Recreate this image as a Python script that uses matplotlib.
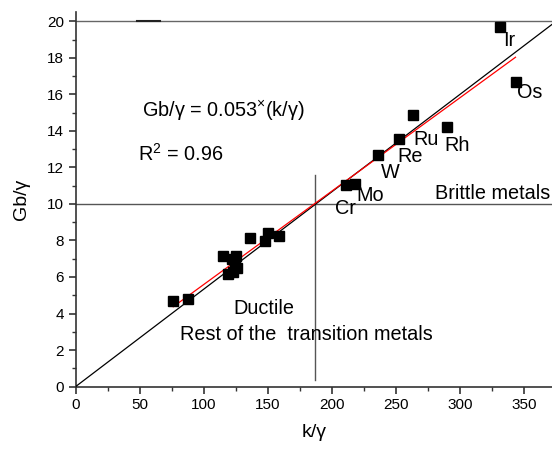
import matplotlib
matplotlib.use("Agg")
import matplotlib.pyplot as plt
import numpy as np

plt.rcParams['font.family'] = ['Liberation Sans', 'DejaVu Sans']
plt.rcParams['mathtext.fontset'] = 'custom'
plt.rcParams['mathtext.rm'] = 'Liberation Sans'
plt.rcParams['mathtext.it'] = 'Liberation Sans:italic'

# data points (k/gamma, Gb/gamma)
k_gamma = [76.2, 88.0, 114.8, 119.2, 122.5, 123.1, 124.5, 125.3, 125.8, 136.2,
           147.9, 150.0, 158.8, 210.9, 218.2, 236.4, 252.8, 263.1, 290.3, 331.5, 343.8]
gb_gamma = [4.70, 4.79, 7.14, 6.14, 7.00, 6.28, 6.74, 7.15, 6.50, 8.16,
            7.98, 8.42, 8.23, 11.06, 11.11, 12.70, 13.54, 14.89, 14.21, 19.67, 16.70]

# labelled metals
metal_names = ["Ir", "Os", "Ru", "Rh", "Re", "W", "Mo", "Cr"]
metal_label_x = [334, 345, 264, 288, 251.3, 238.3, 219.5, 202.6]
metal_label_y = [18.95, 16.1, 13.5, 13.2, 12.6, 11.7, 10.48, 9.75]

# lines
ref_slope = 0.0533
fit_x = [76.2, 343.5]
fit_y = [4.37, 18.03]
x_split = 186.7
y_split = 10
y_top_line = 20
xmax = 372
ymax = 20.5

fig = plt.figure(figsize=(5.52, 4.49), dpi=100)
ax = fig.add_axes([0.137, 0.139, 1.0 - 0.137, 0.973 - 0.139])

ax.set_xlim(0, xmax)
ax.set_ylim(0, ymax)

# reference line through origin
xs = np.array([0, xmax])
ax.plot(xs, ref_slope * xs, color='black', lw=0.9, zorder=3)
# fit line
ax.plot(fit_x, fit_y, color='red', lw=0.9, zorder=4)

# boundary lines
ax.axhline(y_split, color='#555555', lw=1.0, zorder=1)
ax.axhline(y_top_line, color='#666666', lw=1.0, zorder=1)
ax.plot([48, 66], [y_top_line, y_top_line], color='#222222', lw=1.5, zorder=2)
ax.plot([x_split, x_split], [0.37, 11.57], color='#555555', lw=1.0, zorder=1)

ax.plot(k_gamma, gb_gamma, 's', color='black', markersize=7, zorder=5, clip_on=False)

fs = 14.3
for n, lx, ly in zip(metal_names, metal_label_x, metal_label_y):
    ax.text(lx, ly, n, fontsize=fs, va='center', ha='left')

ax.text(51.6, 15.1, "Gb/γ = 0.053" + r"$^{\times}$" + "(k/γ)", fontsize=fs, va='center', ha='left')
ax.text(49, 12.75, "R$^2$ = 0.96", fontsize=fs, va='center', ha='left')
ax.text(281, 10.57, "Brittle metals", fontsize=fs, va='center', ha='left')
ax.text(123, 4.25, "Ductile", fontsize=fs, va='center', ha='left')
ax.text(81.5, 2.83, "Rest of the  transition metals", fontsize=fs, va='center', ha='left')

ax.set_xlabel("k/γ", fontsize=14, labelpad=8)
ax.set_ylabel("Gb/γ", fontsize=14, labelpad=12)

for s in ['top', 'right']:
    ax.spines[s].set_visible(False)
for s in ['left', 'bottom']:
    ax.spines[s].set_linewidth(1.2)
    ax.spines[s].set_color('#333333')

ax.set_xticks(np.arange(0, 351, 50))
ax.set_xticks(np.arange(25, 371, 50), minor=True)
ax.set_yticks(np.arange(0, 21, 2))
ax.set_yticks(np.arange(1, 21, 2), minor=True)
ax.tick_params(which='major', direction='out', length=5, width=1.2, labelsize=11, color='#333333')
ax.tick_params(which='minor', direction='out', length=3, width=1.0, color='#333333')

fig.savefig("out.png", dpi=100)
